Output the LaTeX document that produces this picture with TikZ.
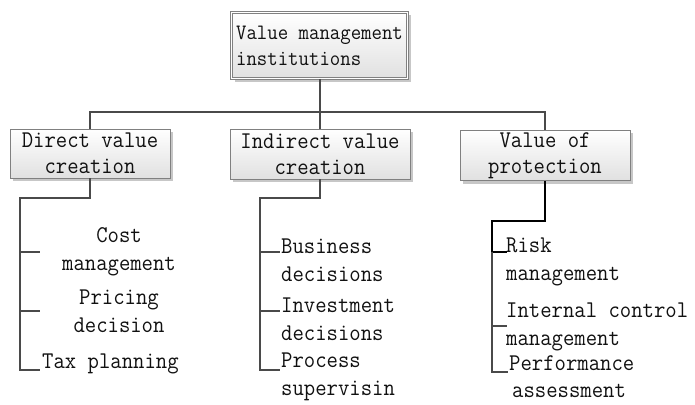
\documentclass[tikz,border=0pt]{standalone}
\usepackage{fontspec}
\setmonofont[FakeStretch=0.92]{Latin Modern Mono}
\usetikzlibrary{shadows}
\newcommand{\leaffont}{\ttfamily\fontsize{24}{28}\selectfont}
\newcommand{\boxfont}{\ttfamily\fontsize{24}{26}\selectfont}
\newcommand{\topfont}{\ttfamily\fontsize{22}{26}\selectfont}
\definecolor{linegray}{HTML}{4A4A4A}
\definecolor{textblk}{HTML}{111111}
\begin{document}
\begin{tikzpicture}[x=1pt,y=-1pt,
  conn/.style={draw=linegray, line width=2pt},
  darkconn/.style={draw=black, line width=1.6pt},
  box/.style={draw=black!50, line width=0.8pt, top color=white, bottom color=black!12,
    drop shadow={shadow xshift=3pt, shadow yshift=-3pt, fill=black!22, opacity=1},
    inner sep=2pt, font=\boxfont, align=center, text=textblk},
  leaf/.style={font=\leaffont, inner sep=0pt, text=textblk}]
\useasboundingbox (0,0) rectangle (695,404);

% boxes
\node[box, double=white, double distance=1.5pt, minimum width=176pt, minimum height=66pt,
      align=left, font=\topfont] (top) at (319.5,45.5) {Value management\\institutions};
\node[box, minimum width=160pt, minimum height=49pt] (direct) at (90,153.5) {Direct value\\creation};
\node[box, minimum width=180pt, minimum height=50pt] (indirect) at (320,154) {Indirect value\\creation};
\node[box, minimum width=170pt, minimum height=47pt] (prot) at (545,155.5) {Value of\\protection};

% leaves
\node[leaf, align=center] (cost) at (119,252) {Cost\\management};
\node[leaf, align=center] (pricing) at (119,311) {Pricing\\decision};
\node[leaf, anchor=west] (tax) at (42,364) {Tax planning};

\node[leaf, anchor=west, align=left] (business) at (281,260) {Business\\decisions};
\node[leaf, anchor=west, align=left] (invest) at (281,319) {Investment\\decisions};
\node[leaf, anchor=west, align=left] (process) at (281,377) {Process\\supervisin};

\node[leaf, anchor=west, align=left] (risk) at (506,262) {Risk\\management};
\node[leaf, anchor=west, align=left] (internal) at (506,326.5) {Internal control\\management};
\node[leaf, anchor=west, align=left, font=\ttfamily\fontsize{24}{27}\selectfont] (perf) at (509,377) {Performance\\\hspace*{3pt}assessment};

% junction points
\coordinate (bus) at (319.5,112);
\coordinate (dj) at (20,198);
\coordinate (d1) at (20,252); \coordinate (d1e) at (40,252);
\coordinate (d2) at (20,311); \coordinate (d2e) at (40,311);
\coordinate (d3) at (20,370); \coordinate (d3e) at (40,370);
\coordinate (ij) at (260,198);
\coordinate (i1) at (260,252); \coordinate (i1e) at (280,252);
\coordinate (i2) at (260,311); \coordinate (i2e) at (280,311);
\coordinate (i3) at (260,370); \coordinate (i3e) at (280,370);
\coordinate (pj) at (492,221);
\coordinate (p1) at (492,252); \coordinate (p1e) at (507,252);
\coordinate (p2) at (492,326); \coordinate (p2e) at (507,326);
\coordinate (p3) at (492,372); \coordinate (p3e) at (508,372);

% top level connectors
\draw[conn] (top.south) -- (bus);
\draw[conn] (direct.north) |- (bus) -| (prot.north);
\draw[conn] (indirect.north) -- (indirect.north |- bus);

% direct value creation branch
\draw[conn] (direct.south) |- (dj) -- (d3) -- (d3e);
\draw[conn] (d1) -- (d1e);
\draw[conn] (d2) -- (d2e);

% indirect value creation branch
\draw[conn] (indirect.south) |- (ij) -- (i3) -- (i3e);
\draw[conn] (i1) -- (i1e);
\draw[conn] (i2) -- (i2e);

% value of protection branch
\draw[darkconn] (prot.south) |- (pj) -- (p1) -- (p1e);
\draw[conn] (p1) -- (p3) -- (p3e);
\draw[conn] (p2) -- (p2e);
\end{tikzpicture}
\end{document}
